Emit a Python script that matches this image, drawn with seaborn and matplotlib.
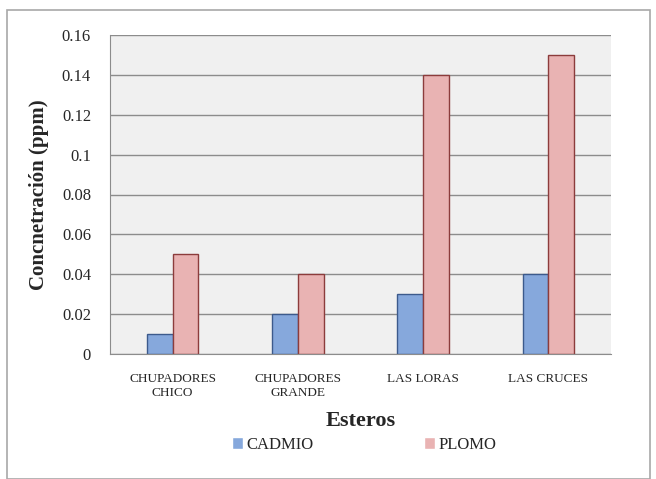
import matplotlib
matplotlib.use("Agg")
import matplotlib.pyplot as plt
from matplotlib.patches import Rectangle
import seaborn as sns
import pandas as pd

esteros = ["CHUPADORES\nCHICO", "CHUPADORES\nGRANDE", "LAS LORAS", "LAS CRUCES"]
cadmio = [0.01, 0.02, 0.03, 0.04]
plomo = [0.05, 0.04, 0.14, 0.15]
y_ticks = [0, 0.02, 0.04, 0.06, 0.08, 0.1, 0.12, 0.14, 0.16]
y_tick_labels = ["0", "0.02", "0.04", "0.06", "0.08", "0.1", "0.12", "0.14", "0.16"]

df = pd.DataFrame({
    "Estero": esteros * 2,
    "Metal": ["CADMIO"] * len(esteros) + ["PLOMO"] * len(esteros),
    "ppm": cadmio + plomo,
})

sns.set_style("white")
plt.rcParams["font.family"] = ["Liberation Serif", "DejaVu Serif"]

fig = plt.figure(figsize=(6.56, 4.79), dpi=100)
fig.patches.append(Rectangle((7 / 656, 0.0), 643 / 656, 1 - 10 / 479, transform=fig.transFigure,
                             fill=False, edgecolor="#a8a8a8", linewidth=1.2))
ax = fig.add_axes([110 / 656, 1 - 354 / 479, 501 / 656, 319 / 479])
ax.set_facecolor("#f0f0f0")

palette = {"CADMIO": "#86a8dc", "PLOMO": "#e9b3b3"}
sns.barplot(data=df, x="Estero", y="ppm", hue="Metal", palette=palette,
            width=0.41, gap=0, ax=ax, saturation=1, legend=True)

edge = {"CADMIO": "#3c5a8c", "PLOMO": "#8c3c3c"}
for container, metal in zip(ax.containers, ["CADMIO", "PLOMO"]):
    for bar in container:
        bar.set_edgecolor(edge[metal])
        bar.set_linewidth(1.0)

ax.set_ylim(0, 0.16)
ax.set_yticks(y_ticks)
ax.set_yticklabels(y_tick_labels, fontsize=12)
ax.yaxis.grid(True, color="#8c8c8c", linewidth=1.0)
ax.set_axisbelow(True)
for s in ["top", "right"]:
    ax.spines[s].set_visible(False)
ax.spines["left"].set_color("#8c8c8c")
ax.spines["bottom"].set_color("#8c8c8c")
ax.tick_params(axis="y", length=3.6, color="#8c8c8c", pad=10)
ax.tick_params(axis="x", length=0, pad=13.5)
ax.set_xticks(range(len(esteros)))
ax.set_xticklabels(esteros, fontsize=9.5, linespacing=1.3)
ax.set_xlim(-0.5, len(esteros) - 0.5)

ax.set_xlabel("Esteros", fontsize=16, fontweight="bold", labelpad=8)
ax.set_ylabel("Concnetración (ppm)", fontsize=15, fontweight="bold", labelpad=9)

handles, labels = ax.get_legend_handles_labels()
ax.legend(handles, labels, loc="center", bbox_to_anchor=(364 / 656, 1 - 445 / 479),
          bbox_transform=fig.transFigure, ncol=2, frameon=False, fontsize=12,
          handlelength=0.7, handleheight=0.7, handletextpad=0.2, columnspacing=6.6)

fig.savefig("out.png", dpi=100)
